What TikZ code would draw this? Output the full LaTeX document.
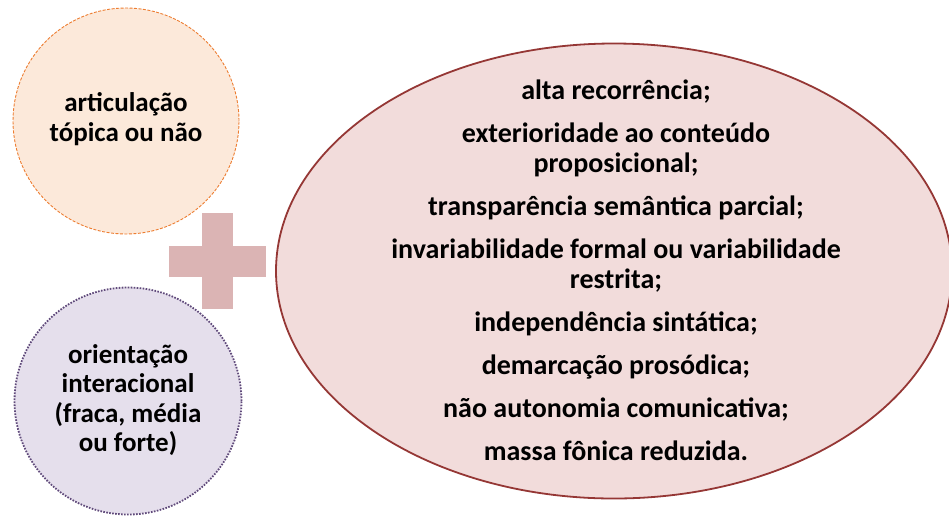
\documentclass[tikz,border=0pt]{standalone}
\usetikzlibrary{shapes.geometric}
\usepackage{fontspec}
\setmainfont{Carlito}
\definecolor{peachfill}{RGB}{252,233,218}
\definecolor{peachline}{RGB}{237,125,49}
\definecolor{lavfill}{RGB}{229,223,236}
\definecolor{lavline}{RGB}{95,73,122}
\definecolor{rosefill}{RGB}{242,220,219}
\definecolor{roseline}{RGB}{149,55,53}
\definecolor{plusfill}{RGB}{219,180,180}
\begin{document}
\begin{tikzpicture}[x=1pt,y=-1pt,
  txt/.style={font=\fontsize{27}{29.5}\selectfont\bfseries, align=center, text=black},
  circA/.style={circle, minimum size=226pt, inner sep=0pt, fill=peachfill, draw=peachline, line width=0.9pt, dash pattern=on 3pt off 1.5pt},
  circB/.style={circle, minimum size=227pt, inner sep=0pt, fill=lavfill, draw=lavline, line width=1.8pt, dash pattern=on 1.6pt off 1.4pt},
  bigell/.style={ellipse, minimum width=676pt, minimum height=455pt, inner sep=0pt, fill=rosefill, draw=roseline, line width=1.8pt}
]
\useasboundingbox (0,0) rectangle (949,515);
\node[circA] (topc) at (126,121) {};
\node[txt] (toptext) at (126,119) {articulação\\tópica ou não};
\node[circB] (botc) at (128,401) {};
\node[txt] (bottext) at (128,400) {orientação\\interacional\\(fraca, média\\ou forte)};
\fill[plusfill] (202,213) rectangle (233,309);
\fill[plusfill] (169,246) rectangle (266,277);
\begin{scope}
\clip (0,0) rectangle (949,515);
\node[bigell] (ell) at (614,271) {};
\end{scope}
\node[txt, font=\fontsize{28}{30}\selectfont\bfseries] (elltext) at (616,270) {alta recorrência;\\[13pt]
exterioridade ao conteúdo\\proposicional;\\[13pt]
transparência semântica parcial;\\[13pt]
invariabilidade formal ou variabilidade\\restrita;\\[13pt]
independência sintática;\\[13pt]
demarcação prosódica;\\[13pt]
não autonomia comunicativa;\\[13pt]
massa fônica reduzida.};
\end{tikzpicture}
\end{document}
